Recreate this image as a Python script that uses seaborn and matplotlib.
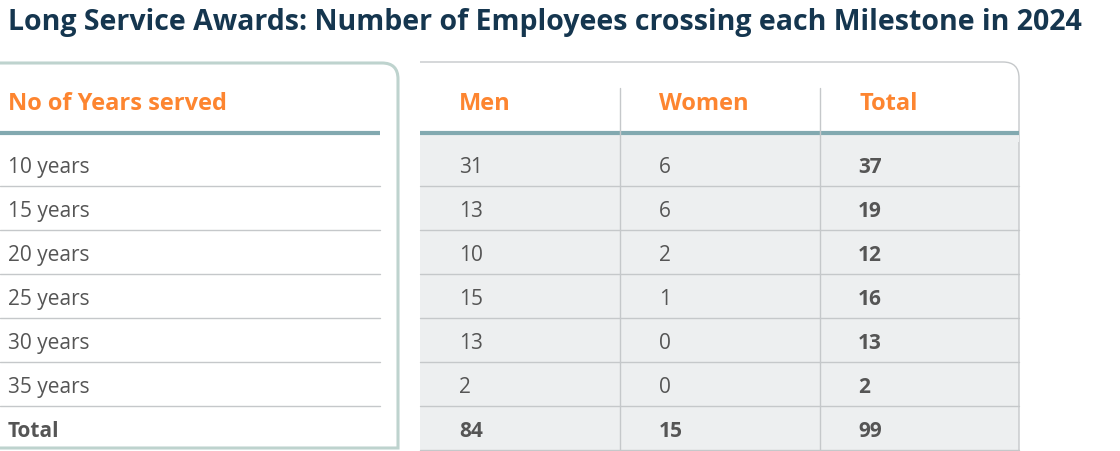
import matplotlib
matplotlib.use("Agg")
import matplotlib.pyplot as plt
from matplotlib.colors import ListedColormap
from matplotlib.path import Path
from matplotlib.patches import PathPatch, Rectangle
import seaborn as sns
import pandas as pd

years = ['10 years', '15 years', '20 years', '25 years', '30 years', '35 years']
men = [31, 13, 10, 15, 13, 2]
women = [6, 6, 2, 1, 0, 0]
columns = ['Men', 'Women', 'Total']
title = 'Long Service Awards: Number of Employees crossing each Milestone in 2024'
row_header = 'No of Years served'

df = pd.DataFrame({'Men': men, 'Women': women}, index=years)
df['Total'] = df['Men'] + df['Women']
df.loc['Total'] = df.sum()
df = df.astype(int)

W, H = 1120, 451
ORANGE = '#fd8530'
NAVY = '#15364f'
TEAL = '#82a9b0'
BOX = '#bed3ce'
GRID = '#c5c8ca'
CELL = '#edeff0'
TXT = '#555555'

sns.set_style('white')
plt.rcParams['font.family'] = ['Open Sans', 'DejaVu Sans']

fig = plt.figure(figsize=(W / 100, H / 100), dpi=100)
renderer = fig.canvas.get_renderer()


def fit(t, width):
    bb = t.get_window_extent(renderer)
    t.set_fontsize(t.get_fontsize() * width / bb.width)


# table body: grey cells with the numbers
top, rh = 142, 44
nrows = len(df)
ax_hm = fig.add_axes([420 / W, 1 - (top + rh * nrows) / H, 599 / W, rh * nrows / H], zorder=1)
sns.heatmap(df, ax=ax_hm, cmap=ListedColormap([CELL]), cbar=False, annot=True, fmt='d',
            xticklabels=False, yticklabels=False,
            annot_kws={'ha': 'left', 'va': 'baseline', 'color': TXT, 'fontsize': 15})
ax_hm.axis('off')
ncols = df.shape[1]
for t in ax_hm.texts:
    x, y = t.get_position()
    t.set_position((x - 0.305, y + 0.2))
    if int(x) == ncols - 1 or int(y) == nrows - 1:
        t.set_fontweight('bold')

# overlay in pixel coordinates
ax = fig.add_axes([0, 0, 1, 1], zorder=2)
ax.set_xlim(0, W)
ax.set_ylim(H, 0)
ax.axis('off')
ax.patch.set_alpha(0)

# left box with rounded top-right corner
r = 16
left_box = Path([(-10, 63), (398 - r, 63), (398, 63), (398, 63 + r), (398, 448), (-10, 448)],
                [Path.MOVETO, Path.LINETO, Path.CURVE3, Path.CURVE3, Path.LINETO, Path.LINETO])
ax.add_patch(PathPatch(left_box, fill=False, edgecolor=BOX, lw=2.2))

# right panel outline (no left edge)
right_box = Path([(420, 62), (1019 - r, 62), (1019, 62), (1019, 62 + r), (1019, H + 5)],
                 [Path.MOVETO, Path.LINETO, Path.CURVE3, Path.CURVE3, Path.LINETO])
ax.add_patch(PathPatch(right_box, fill=False, edgecolor=GRID, lw=1.0))

# grey strip under the header line
ax.add_patch(Rectangle((420, 134), 599, top - 134, color=CELL, lw=0))

# header underline
ax.plot([0, 380], [133, 133], color=TEAL, lw=3.0, solid_capstyle='butt')
ax.plot([420, 1019], [133, 133], color=TEAL, lw=3.0, solid_capstyle='butt')

# row lines
for i in range(1, nrows):
    y = top + rh * i
    ax.plot([0, 380], [y, y], color=GRID, lw=1.0)
    ax.plot([420, 1019], [y, y], color=GRID, lw=1.0)
ax.plot([420, 1019], [top + rh * nrows, top + rh * nrows], color=GRID, lw=1.0)

# column separators
for j in range(1, ncols):
    x = 420 + 200 * j
    ax.plot([x, x], [88, H], color=GRID, lw=1.0)

# left labels
for i, lab in enumerate(df.index):
    t = ax.text(8, top + rh * i + 31, lab, ha='left', va='baseline', color=TXT, fontsize=15,
                fontweight='bold' if i == nrows - 1 else 'normal')

# headers
t = ax.text(8, 110, row_header, ha='left', va='baseline', color=ORANGE, fontsize=16, fontweight='bold')
fit(t, 219)
hsize = t.get_fontsize()
for j, c in enumerate(columns):
    ax.text(459 + 200 * j, 110, c, ha='left', va='baseline', color=ORANGE, fontsize=hsize, fontweight='bold')

# title
t = ax.text(8, 30, title, ha='left', va='baseline', color=NAVY, fontsize=20, fontweight='bold')
fit(t, 1075)

fig.savefig('out.png', dpi=100)
